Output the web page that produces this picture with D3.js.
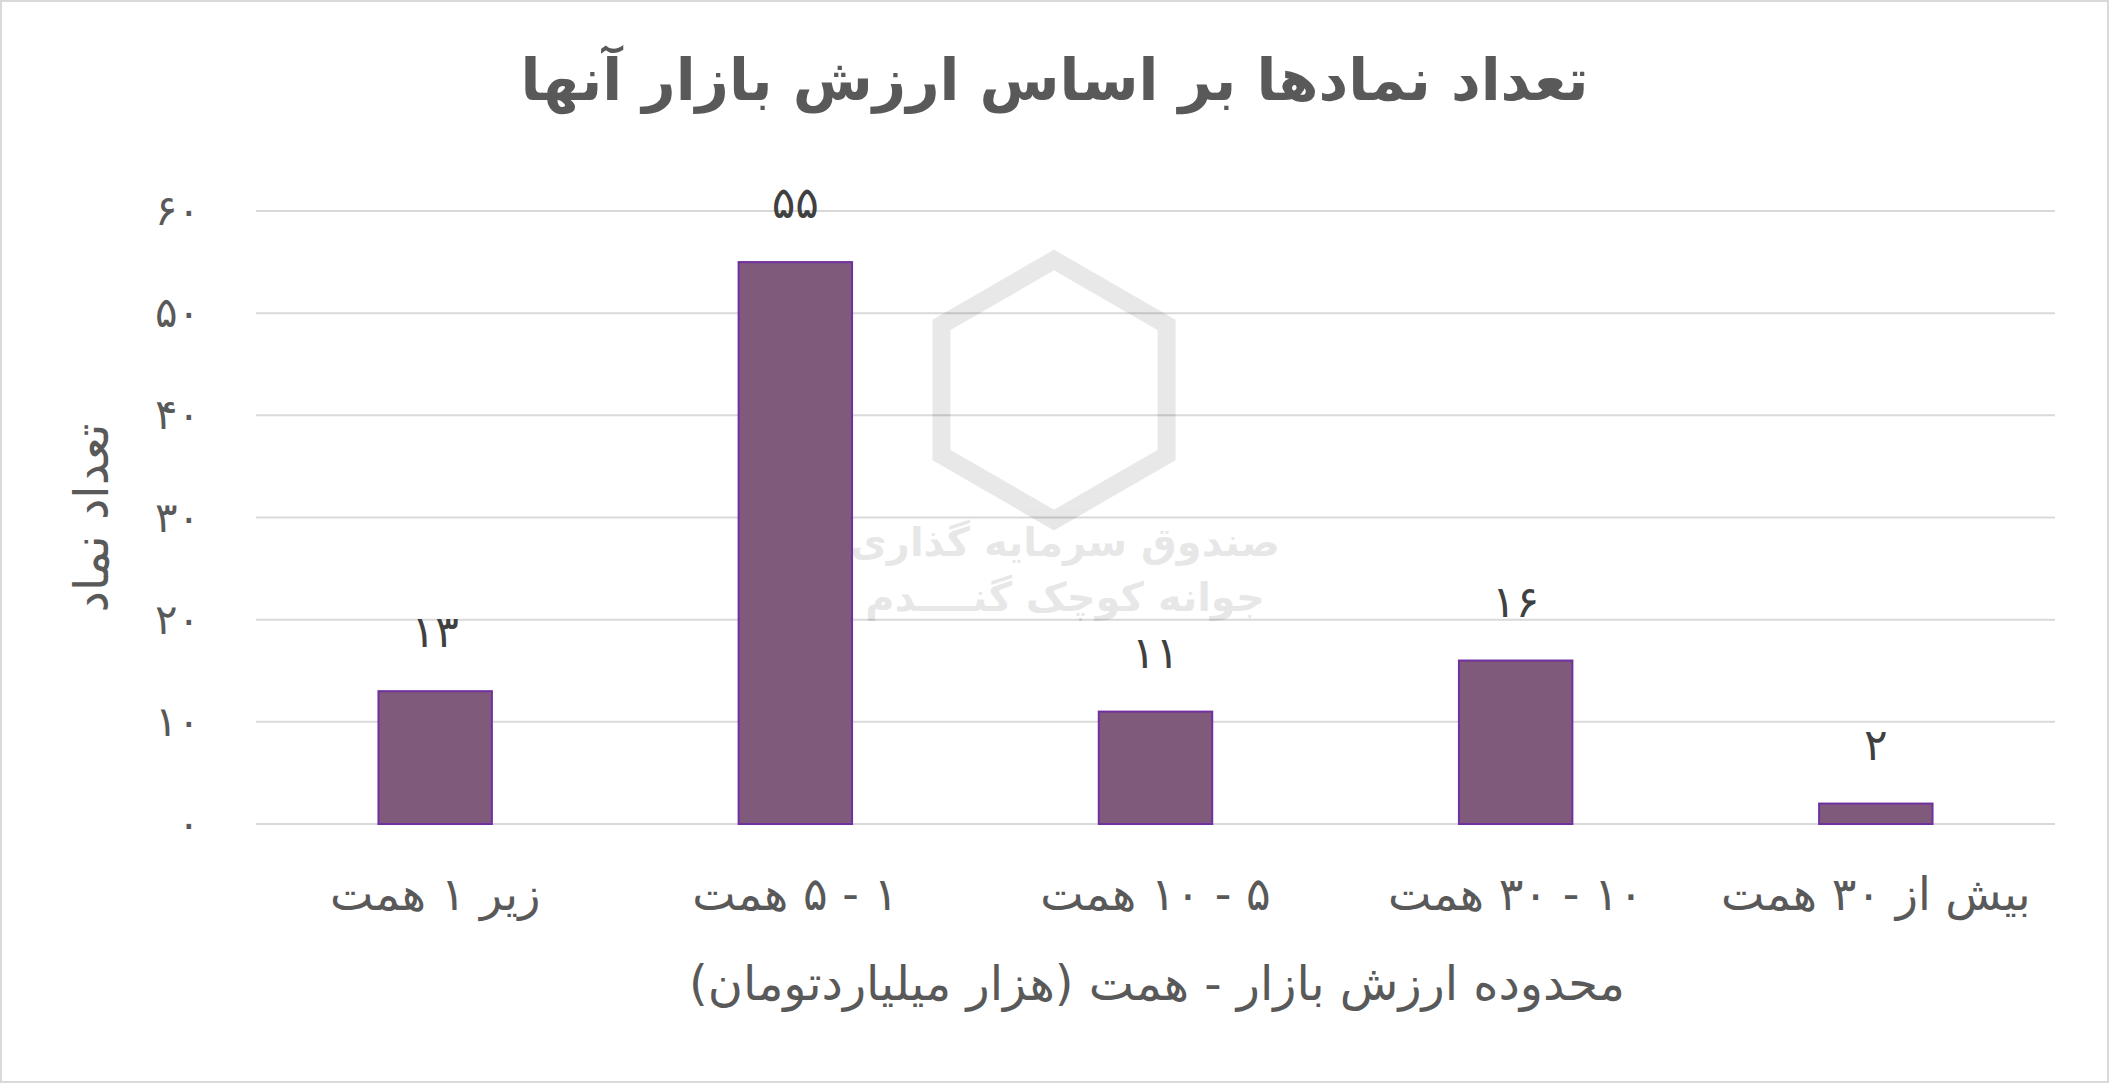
<!DOCTYPE html>
<html>
<head>
<meta charset="utf-8">
<script src="https://cdn.jsdelivr.net/npm/d3@7"></script>
<style>
  body { margin: 0; background: #fff; }
  text { font-family: "DejaVu Sans", "Noto Sans", sans-serif; }
</style>
</head>
<body>
<div id="chart"></div>
<script>
// chart data
const categories = ["زیر ۱ همت", "۱ - ۵ همت", "۵ - ۱۰ همت", "۱۰ - ۳۰ همت", "بیش از ۳۰ همت"];
const counts = [13, 55, 11, 16, 2];
const yTicks = [0, 10, 20, 30, 40, 50, 60];

const W = 2109, H = 1083;
const margin = {top: 211, right: 54, bottom: 259, left: 256};
const width = W - margin.left - margin.right,
    height = H - margin.top - margin.bottom;

const fa = n => String(n).replace(/\d/g, d => "۰۱۲۳۴۵۶۷۸۹"[d]);

const root = d3.select("#chart").append("svg")
    .attr("width", W).attr("height", H);

root.append("rect")
    .attr("x", 1).attr("y", 1).attr("width", W - 2).attr("height", H - 2)
    .attr("fill", "#fff").attr("stroke", "#d9d9d9").attr("stroke-width", 2);

// title
root.append("text")
    .attr("x", W / 2).attr("y", 100)
    .attr("text-anchor", "middle").attr("direction", "rtl")
    .attr("font-size", 58).attr("font-weight", "bold").attr("fill", "#595959")
    .text("تعداد نمادها بر اساس ارزش بازار آنها");

const svg = root.append("g")
    .attr("transform", `translate(${margin.left},${margin.top})`);

const x = d3.scaleBand().domain(categories).range([0, width]).paddingInner(0.685).paddingOuter(0.34);
const y = d3.scaleLinear().domain([0, 60]).range([height, 0]);

// gridlines + y labels
svg.selectAll(".grid").data(yTicks).join("line")
    .attr("x1", 0).attr("x2", width)
    .attr("y1", d => y(d)).attr("y2", d => y(d))
    .attr("stroke", "#d9d9d9").attr("stroke-width", 2);

svg.selectAll(".ytick").data(yTicks).join("text")
    .attr("x", -56).attr("y", d => y(d) + 14)
    .attr("text-anchor", "end")
    .attr("font-size", 42).attr("fill", "#595959")
    .text(d => fa(d));

// watermark
const wm = svg.append("g").attr("opacity", 0.09).attr("fill", "#000");
wm.append("text").attr("x", 800 - margin.left + 265).attr("y", 345).attr("text-anchor", "middle")
    .attr("direction", "rtl").attr("font-size", 40).attr("font-weight", "bold").text("صندوق سرمایه گذاری");
wm.append("text").attr("x", 800 - margin.left + 265).attr("y", 400).attr("text-anchor", "middle")
    .attr("direction", "rtl").attr("font-size", 40).attr("font-weight", "bold").text("جوانه کوچک گنــــدم");
const hx = 1054 - margin.left, hy = 290 - margin.top + 100, hr = 130;
wm.append("path")
    .attr("d", d3.range(6).map((i, k) => {
        const a = Math.PI / 3 * i - Math.PI / 2;
        return (k ? "L" : "M") + (hx + hr * Math.cos(a)) + "," + (hy + hr * Math.sin(a));
    }).join("") + "Z")
    .attr("fill", "none").attr("stroke", "#000").attr("stroke-width", 18);

// bars
svg.selectAll(".bar").data(counts).join("rect")
    .attr("x", (d, i) => x(categories[i]))
    .attr("y", d => y(d))
    .attr("width", x.bandwidth())
    .attr("height", d => height - y(d))
    .attr("fill", "#7f5a7b").attr("stroke", "#7030a0").attr("stroke-width", 2);

svg.selectAll(".val").data(counts).join("text")
    .attr("x", (d, i) => x(categories[i]) + x.bandwidth() / 2)
    .attr("y", d => y(d) - 44)
    .attr("text-anchor", "middle")
    .attr("font-size", 44).attr("fill", "#404040")
    .text(d => fa(d));

// category labels
svg.selectAll(".cat").data(categories).join("text")
    .attr("x", d => x(d) + x.bandwidth() / 2)
    .attr("y", height + 86)
    .attr("text-anchor", "middle").attr("direction", "rtl")
    .attr("font-size", 46).attr("fill", "#595959")
    .text(d => d);

// axis titles
root.append("text")
    .attr("x", 1157).attr("y", 1000)
    .attr("text-anchor", "middle").attr("direction", "rtl")
    .attr("font-size", 48).attr("fill", "#595959")
    .text("محدوده ارزش بازار - همت (هزار میلیاردتومان)");

root.append("text")
    .attr("transform", `translate(108,518) rotate(-90)`)
    .attr("text-anchor", "middle").attr("direction", "rtl")
    .attr("font-size", 48).attr("fill", "#595959")
    .text("تعداد نماد");
</script>
</body>
</html>
